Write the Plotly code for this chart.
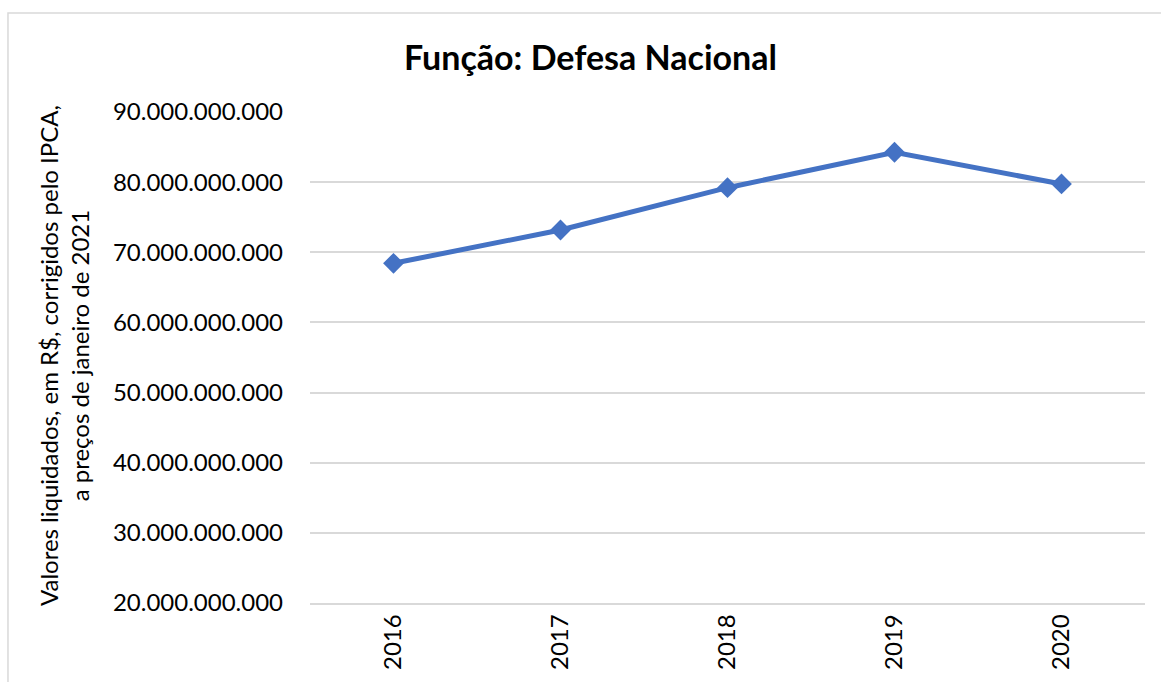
import plotly.graph_objects as go

years = ["2016", "2017", "2018", "2019", "2020"]
valores = [68.43e9, 73.18e9, 79.21e9, 84.26e9, 79.74e9]
y_ticks = [20e9, 30e9, 40e9, 50e9, 60e9, 70e9, 80e9, 90e9]

FONT = "Lato"
BLUE = "#4472C4"
GRID = "#D9D9D9"

fig = go.Figure(
    go.Scatter(
        x=years,
        y=valores,
        mode="lines+markers",
        line=dict(color=BLUE, width=5),
        marker=dict(symbol="diamond", size=16, color=BLUE),
        showlegend=False,
    )
)

fig.update_layout(
    width=1161,
    height=682,
    margin=dict(l=310, r=16, t=112, b=79),
    paper_bgcolor="white",
    plot_bgcolor="white",
    separators=",.",
    font=dict(family=FONT, color="black", size=24),
    title=dict(
        text="<b>Função: Defesa Nacional</b>",
        x=0.5086, xanchor="center",
        y=0.915, yanchor="middle",
        font=dict(family=FONT, size=34, color="black"),
    ),
    xaxis=dict(
        type="category",
        range=[-0.5, len(years) - 0.5],
        tickangle=-90,
        showgrid=False,
        showline=True,
        linecolor=GRID,
        linewidth=1.5,
        ticks="",
        tickfont=dict(size=24),
    ),
    yaxis=dict(
        range=[20e9, 90e9],
        tickvals=y_ticks,
        tickformat=",d",
        showgrid=True,
        gridcolor=GRID,
        gridwidth=1.5,
        zeroline=False,
        ticks="",
        ticklabelstandoff=26,
        tickfont=dict(size=24),
    ),
)

fig.add_annotation(
    text="Valores liquidados, em R$, corrigidos pelo IPCA,<br>a preços de janeiro de 2021",
    xref="paper", yref="paper",
    x=-0.2946, y=0.503,
    xanchor="center", yanchor="middle",
    textangle=-90,
    showarrow=False,
    font=dict(family=FONT, size=24, color="black"),
)

# moldura cinza do gráfico
fig.add_shape(
    type="rect",
    xref="paper", yref="paper",
    x0=-0.3617, x1=1.2, y0=-0.3, y1=1.2016,
    line=dict(color=GRID, width=1.5),
    layer="below",
)

# sem a margem padrão do <body>, a figura fica em (0, 0)
fig.write_html(
    "out.html",
    config={"displayModeBar": False},
    post_script="document.body.style.margin='0';",
)
